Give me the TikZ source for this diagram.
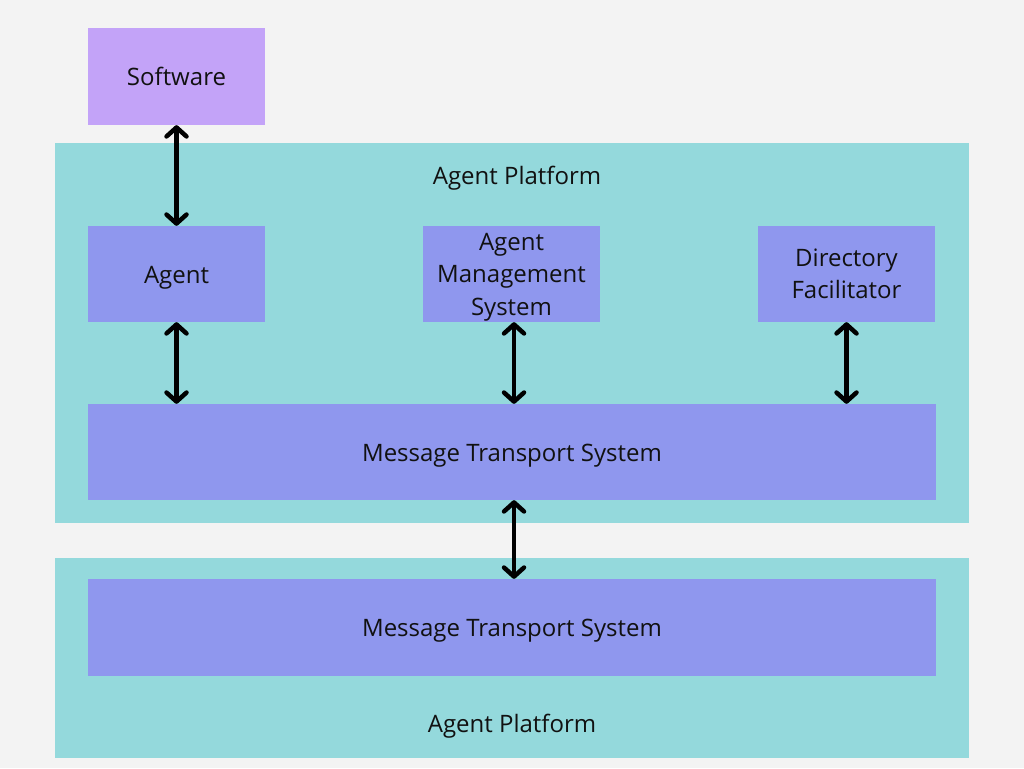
\documentclass[tikz,border=0pt]{standalone}
\usepackage{fontspec}
\setmainfont{Open Sans}
\usetikzlibrary{arrows.meta}
\definecolor{bgc}{HTML}{F3F3F3}
\definecolor{swc}{HTML}{C3A3F8}
\definecolor{platc}{HTML}{94D9DC}
\definecolor{boxc}{HTML}{8F97EE}
\definecolor{txtc}{HTML}{111111}
\tikzset{
  plat/.style={rectangle, fill=platc, inner sep=0pt},
  comp/.style={rectangle, fill=boxc, inner sep=0pt, minimum width=177pt, minimum height=96pt,
    align=center, text=txtc, font=\fontsize{24}{32.5}\selectfont},
  lowtext/.style={text height=25pt, text depth=6pt},
  lbl/.style={text=txtc, font=\fontsize{24}{32.5}\selectfont, inner sep=0pt},
  link/.style={line width=4.5pt, black, {Straight Barb[length=9pt,width=20pt,line cap=round,line join=round]}-{Straight Barb[length=9pt,width=20pt,line cap=round,line join=round]}}
}
\begin{document}
\begin{tikzpicture}[x=1pt,y=-1pt]
  \fill[bgc] (0,0) rectangle (1024,768);
  \useasboundingbox (0,0) rectangle (1024,768);
  % platforms
  \node[plat, minimum width=914pt, minimum height=380pt] (p1) at (512,333) {};
  \node[plat, minimum width=914pt, minimum height=200pt] (p2) at (512,658) {};
  \node[lbl] (p1l) at (517,178) {Agent Platform};
  \node[lbl] (p2l) at (512,726) {Agent Platform};
  % components
  \node[comp, fill=swc, minimum height=97pt] (sw) at (176.5,76.5) {Software};
  \node[comp, lowtext] (ag) at (176.5,274) {Agent};
  \node[comp] (ams) at (511.5,274) {\rule{0pt}{23pt}Agent\\Management\\System};
  \node[comp] (df) at (846.5,274) {Directory\\Facilitator};
  \node[comp, lowtext, minimum width=848pt] (mts1) at (512,452) {Message Transport System};
  \node[comp, text height=23pt, text depth=6pt, minimum width=848pt, minimum height=97pt] (mts2) at (512,627.5) {Message Transport System};
  % links
  \draw[link] (sw.south) -- (ag.north);
  \draw[link] (ag.south) -- (ag.south |- mts1.north);
  \draw[link] ([xshift=2.5pt]ams.south) -- ([xshift=2.5pt]ams.south |- mts1.north);
  \draw[link] (df.south) -- (df.south |- mts1.north);
  \draw[link] ([xshift=2pt]mts1.south) -- ([xshift=2pt]mts1.south |- mts2.north);
\end{tikzpicture}
\end{document}
